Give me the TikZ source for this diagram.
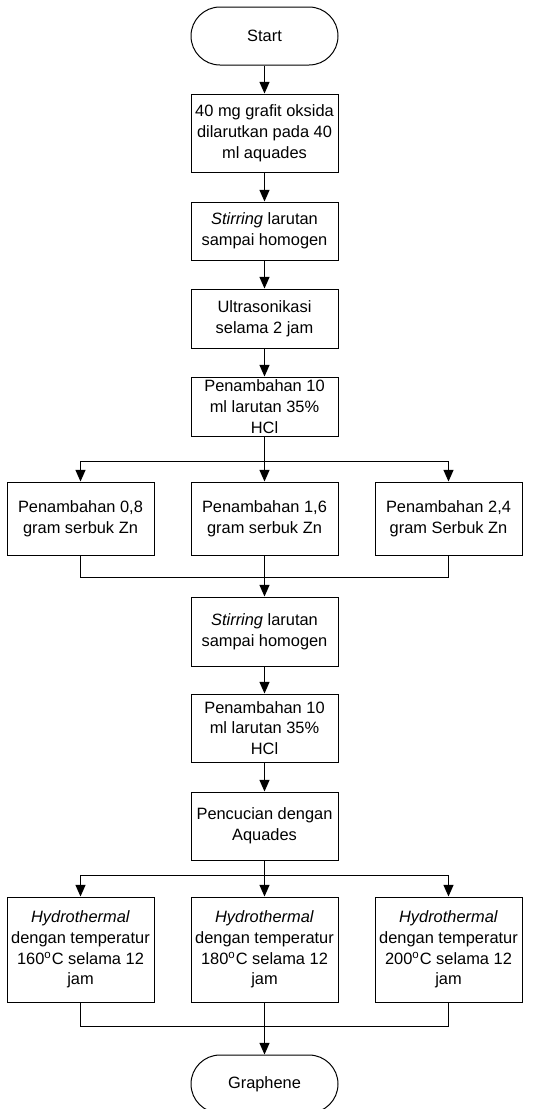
\documentclass[tikz,border=0pt]{standalone}
\usepackage{fontspec}
\setmainfont{Liberation Sans}
\usetikzlibrary{arrows.meta,positioning,calc}

\begin{document}
\begin{tikzpicture}[x=0.5pt,y=-0.5pt,
          every node/.style={font=\fontsize{8.2}{10.4}\selectfont},
          proc/.style={rectangle,draw=black,line width=0.5pt,align=center,
                       minimum width=73.5pt,inner sep=1pt},
          term/.style={rectangle,rounded corners=14.5pt,draw=black,line width=0.5pt,
                       minimum width=73.5pt,minimum height=29pt},
          arr/.style={-{Triangle[length=5.8pt,width=5pt]},line width=0.5pt},
          lin/.style={line width=0.5pt},
        ]
        \useasboundingbox (0,0) rectangle (551,1109);
        % main column
        \node[term] (start) at (264.5,36){Start};
        \node[proc,minimum height=39pt] (larut) at (264.5,133){40 mg grafit oksida\\dilarutkan pada 40\\ml aquades};
        \node[proc,minimum height=29pt] (stir1) at (264.5,231){\textit{Stirring} larutan\\sampai homogen};
        \node[proc,minimum height=29.5pt] (ultra) at (264.5,318.5){Ultrasonikasi\\selama 2 jam};
        \node[proc,minimum height=29.5pt] (hcl1) at (264.5,406.5){Penambahan 10\\ml larutan 35\%\\HCl};
        \foreach \a/\b in {start/larut,larut/stir1,stir1/ultra,ultra/hcl1}{
          \draw[arr](\a)--(\b);
        }
        % Zn branches
        \node[proc,minimum height=36.5pt] (zn1) at (80.5,518.5){Penambahan 0,8\\gram serbuk Zn};
        \node[proc,minimum height=36.5pt] (zn2) at (264.5,518.5){Penambahan 1,6\\gram serbuk Zn};
        \node[proc,minimum height=36.5pt] (zn3) at (448.5,518.5){Penambahan 2,4\\gram Serbuk Zn};
        \coordinate (fork1) at (264.5,461);
        \coordinate (join1) at (264.5,577);
        \draw[lin](hcl1)--(fork1);
        \foreach \n in {zn1,zn2,zn3}{
          \draw[arr](fork1)-|(\n.north);
        }
        \draw[lin](zn1.south)|-(join1);
        \draw[lin](zn3.south)|-(join1);
        \node[proc,minimum height=34.5pt] (stir2) at (264.5,631.5){\textit{Stirring} larutan\\sampai homogen};
        \draw[arr](zn2)--(stir2);
        \node[proc,minimum height=34pt] (hcl2) at (264.5,728){Penambahan 10\\ml larutan 35\%\\HCl};
        \node[proc,minimum height=34pt] (cuci) at (264.5,826){Pencucian dengan\\Aquades};
        \foreach \a/\b in {stir2/hcl2,hcl2/cuci}{
          \draw[arr](\a)--(\b);
        }
        % hydrothermal branches
        \node[proc,minimum height=52.5pt] (hyd1) at (80.5,949.5){\textit{Hydrothermal}\\dengan temperatur\\160\textsuperscript{o}C selama 12\\jam};
        \node[proc,minimum height=52.5pt] (hyd2) at (264.5,949.5){\textit{Hydrothermal}\\dengan temperatur\\180\textsuperscript{o}C selama 12\\jam};
        \node[proc,minimum height=52.5pt] (hyd3) at (448.5,949.5){\textit{Hydrothermal}\\dengan temperatur\\200\textsuperscript{o}C selama 12\\jam};
        \coordinate (fork2) at (264.5,875);
        \coordinate (join2) at (264.5,1026);
        \draw[lin](cuci)--(fork2);
        \foreach \n in {hyd1,hyd2,hyd3}{
          \draw[arr](fork2)-|(\n.north);
        }
        \draw[lin](hyd1.south)|-(join2);
        \draw[lin](hyd3.south)|-(join2);
        \node[term] (grafen) at (264.5,1084){Graphene};
        \draw[arr](hyd2)--(grafen);
      \end{tikzpicture}
\end{document}
